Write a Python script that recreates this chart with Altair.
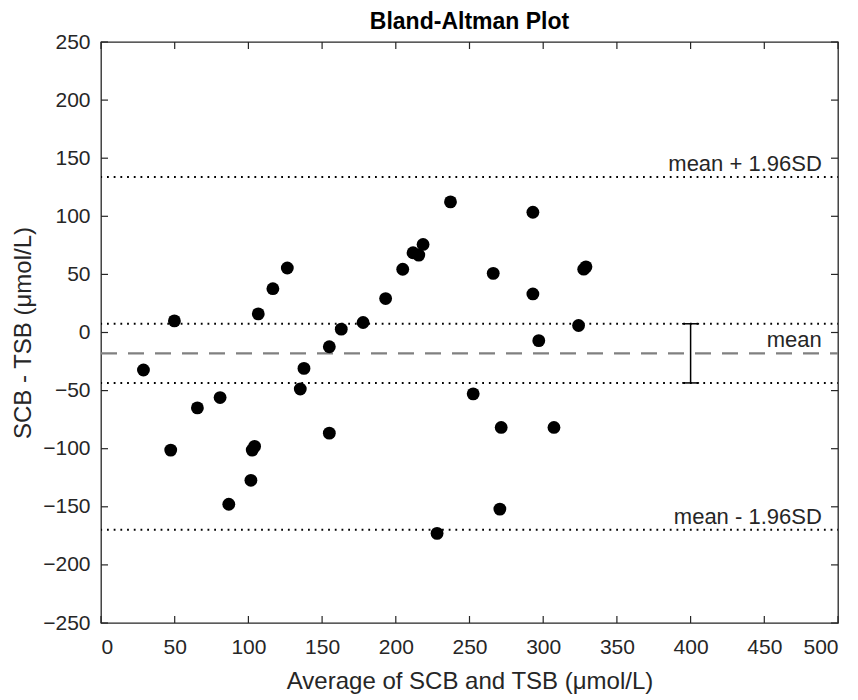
import altair as alt
import pandas as pd

# Data
avg = [28.8, 47.3, 49.8, 65.4, 80.8, 86.7, 101.7, 102.6, 104.2, 106.7, 116.6, 126.4,
       135.2, 137.7, 154.9, 154.9, 163.0, 177.8, 193.1, 204.7, 211.7, 215.6, 218.5, 237.1,
       228.0, 252.5, 266.1, 270.6, 271.5, 293.0, 293.0, 297.0, 307.3, 324.0, 327.5, 329.0]
diff = [-32.3, -101.2, 10.0, -64.9, -56.0, -147.8, -127.2, -101.2, -98.0, 16.0, 37.7, 55.5,
        -48.6, -30.9, -86.6, -12.3, 2.9, 8.6, 29.2, 54.4, 68.6, 66.6, 75.8, 112.4,
        -172.9, -52.8, 50.9, -152.0, -81.7, 103.5, 33.2, -7.0, -81.7, 6.0, 54.5, 56.5]

mean_diff = -18.0
upper_loa = 133.8
lower_loa = -169.8
ci_upper = 7.5
ci_lower = -43.4
ci_x = 400

label_texts = ["mean + 1.96SD", "mean", "mean - 1.96SD"]
label_values = [upper_loa, mean_diff, lower_loa]
title_text = "Bland-Altman Plot"

x_ticks = list(range(0, 501, 50))
y_ticks = list(range(-250, 251, 50))

FONT = "Liberation Sans"
AX = "#262626"
W, H = 737, 581

pts = pd.DataFrame({"avg": avg, "diff": diff})
dotted_df = pd.DataFrame({"y": [upper_loa, ci_upper, ci_lower, lower_loa]})
mean_df = pd.DataFrame({"y": [mean_diff]})
err_df = pd.DataFrame({"x": [ci_x], "lo": [ci_lower], "hi": [ci_upper]})
caps_df = pd.DataFrame({"x": [ci_x, ci_x], "y": [ci_lower, ci_upper]})
lab_df = pd.DataFrame({"t": label_texts, "y": label_values})
title_df = pd.DataFrame({"t": [title_text]})
xt_df = pd.DataFrame({"v": x_ticks})
yt_df = pd.DataFrame({"v": y_ticks})

xscale = alt.Scale(domain=[0, 500], nice=False, zero=False)
yscale = alt.Scale(domain=[-250, 250], nice=False, zero=False)

points = alt.Chart(pts).mark_circle(size=165, color="black", opacity=1).encode(
    x=alt.X("avg:Q", scale=xscale,
            axis=alt.Axis(values=x_ticks, title="Average of SCB and TSB (μmol/L)",
                          labelPadding=13, titlePadding=12)),
    y=alt.Y("diff:Q", scale=yscale,
            axis=alt.Axis(values=y_ticks, title="SCB - TSB (μmol/L)",
                          labelPadding=11, titlePadding=7)),
)

dotted = alt.Chart(dotted_df).mark_rule(
    color="black", strokeWidth=2, strokeDash=[1.8, 4.9], strokeDashOffset=-6
).encode(x=alt.datum(0), x2=alt.datum(500), y="y:Q")

mean_line = alt.Chart(mean_df).mark_rule(
    color="#808080", strokeWidth=2.4, strokeDash=[16, 11]
).encode(x=alt.datum(0), x2=alt.datum(500), y="y:Q")

err = alt.Chart(err_df).mark_rule(color="black", strokeWidth=1.5).encode(
    x="x:Q", y="lo:Q", y2="hi:Q")
caps = alt.Chart(caps_df).mark_tick(
    color="black", orient="horizontal", size=17, thickness=1.5, opacity=1
).encode(x="x:Q", y="y:Q")

labels = alt.Chart(lab_df).mark_text(
    align="right", baseline="middle", dy=-13, font=FONT, fontSize=22, color=AX
).encode(x=alt.datum(489), y="y:Q", text="t:N")

title = alt.Chart(title_df).mark_text(
    align="center", baseline="middle", font=FONT, fontSize=23,
    fontWeight="bold", color="black"
).encode(x=alt.datum(250), y=alt.value(-20), text="t:N")

tick_len = 7
xt_bottom = alt.Chart(xt_df).mark_rule(color=AX, strokeWidth=1.2).encode(
    x="v:Q", y=alt.value(H - tick_len), y2=alt.value(H))
xt_top = alt.Chart(xt_df).mark_rule(color=AX, strokeWidth=1.2).encode(
    x="v:Q", y=alt.value(0), y2=alt.value(tick_len))
yt_left = alt.Chart(yt_df).mark_rule(color=AX, strokeWidth=1.2).encode(
    y="v:Q", x=alt.value(0), x2=alt.value(tick_len))
yt_right = alt.Chart(yt_df).mark_rule(color=AX, strokeWidth=1.2).encode(
    y="v:Q", x=alt.value(W - tick_len), x2=alt.value(W))

chart = alt.layer(
    dotted, mean_line, err, caps, labels, points, title,
    xt_bottom, xt_top, yt_left, yt_right
).properties(
    width=W, height=H,
    autosize=alt.AutoSizeParams(type="none"),
    padding={"left": 93, "top": 34, "right": 12, "bottom": 76},
).configure_view(
    stroke=AX, strokeWidth=1.3
).configure_axis(
    grid=False, ticks=False, domain=False,
    labelFont=FONT, labelFontSize=21, labelColor=AX,
    titleFont=FONT, titleFontSize=24, titleFontWeight="normal", titleColor=AX,
)

chart.save("out.html", embed_options={"renderer": "svg", "actions": False})
